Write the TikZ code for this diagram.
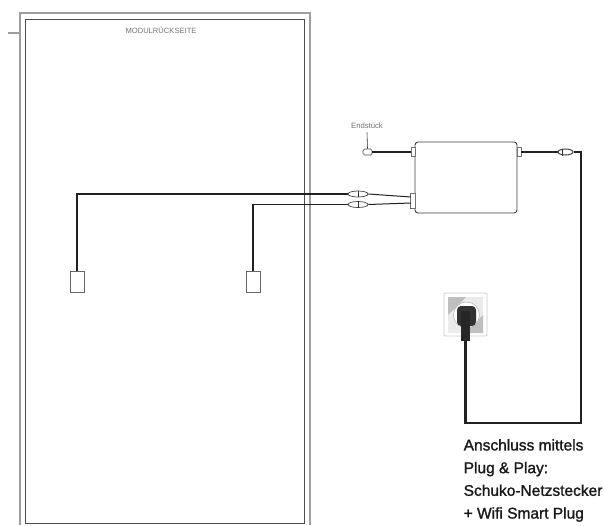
\documentclass[tikz,border=0pt]{standalone}
\usepackage{fontspec}
\setmainfont{Liberation Sans}
\newfontfamily\notefont[FakeBold=1.4]{Liberation Sans}
\usetikzlibrary{positioning,shapes.geometric}

\definecolor{framegray}{gray}{0.62}
\definecolor{plugblack}{gray}{0.13}
\definecolor{labelgray}{gray}{0.45}

\tikzstyle{wire} = [draw=plugblack, line width=1.7pt, line join=miter]
\tikzstyle{gridwire} = [draw=plugblack, line width=2.3pt, line join=miter]
\tikzstyle{thinwire} = [draw=plugblack, line width=1pt]
\tikzstyle{panelplug} = [rectangle, draw=black!60, fill=white, line width=0.8pt,
	minimum width=14pt, minimum height=21pt, inner sep=0pt]
\tikzstyle{tab} = [rectangle, draw=black!55, fill=white, line width=0.7pt, inner sep=0pt]
\tikzstyle{mc} = [ellipse, draw=black!75, fill=white, line width=0.7pt,
	minimum width=20pt, minimum height=6pt, inner sep=0pt]

\begin{document}
\begin{tikzpicture}[x=1pt, y=-1pt]
	\useasboundingbox (0,0) rectangle (604,525);
	
	% module frame
	\draw[framegray, line width=1.2pt] (20,525) -- (20,13) -- (310,13) -- (310,525);
	\draw[black!70, line width=1pt] (25,523) -- (25,19) -- (304.5,19) -- (304.5,523) -- cycle;
	\draw[framegray, line width=1.2pt] (8,33) -- (20,33);
	\node [text=labelgray, font=\fontsize{7.6}{9}\selectfont] (title) at (161,30) {MODULRÜCKSEITE};
	
	% micro inverter
	\node [rectangle, draw=black!75, rounded corners=3pt, line width=0.9pt, fill=white,
		minimum width=102pt, minimum height=71pt, inner sep=0pt] (box) at (466,177.5) {};
	\node [tab, minimum width=4pt, minimum height=9pt] (tabL) at (413,152) {};
	\node [tab, minimum width=4pt, minimum height=9pt] (tabR) at (519,152) {};
	\node [tab, minimum width=5pt, minimum height=15pt] (tabDC) at (413,200.5) {};
	
	% panel side
	\node [panelplug] (plugA) at (77,281.5) {};
	\node [panelplug] (plugB) at (253,281.5) {};
	\node [mc] (mcA) at (358,194) {};
	\node [mc] (mcB) at (358,204.5) {};
	\draw[black!80, line width=0.6pt] (mcA.north) -- (mcA.south);
	\draw[black!80, line width=0.6pt] (mcB.north) -- (mcB.south);
	\coordinate (cornerA) at (77,194);
	\coordinate (cornerB) at (253,204.5);
	\coordinate (inA) at (411,197);
	\coordinate (inB) at (411,203);
	\draw[wire] (plugA.north) -- (cornerA) -- (mcA.west);
	\draw[wire] (plugB.north) -- (cornerB) -- (mcB.west);
	\draw[thinwire] (mcA.east) -- (inA);
	\draw[thinwire] (mcB.east) -- (inB);
	
	% end cap
	\node [rectangle, draw=black!70, fill=white, rounded corners=1.5pt, line width=0.7pt,
		minimum width=9pt, minimum height=6pt, inner sep=0pt] (cap) at (367.5,152) {};
	\node [text=labelgray, font=\fontsize{7.7}{9}\selectfont] (capname) at (367,126) {Endstück};
	\draw[black!80, line width=0.6pt] (capname.south) -- (cap.north);
	\draw[gridwire] (cap.east) -- (tabL.west);
	
	% socket
	\node [rectangle, draw=black!20, fill=white, rounded corners=1pt, line width=0.8pt,
		minimum width=43pt, minimum height=43pt, inner sep=0pt] (socket) at (465.5,314.5) {};
	\fill[black!8] (448,297) rectangle (483,333);
	\fill[black!25] (448,297) -- (466,297) -- (448,315) -- cycle;
	\fill[black!25] (483,333) -- (465,333) -- (483,315) -- cycle;
	\node [circle, draw=black!35, fill=white, minimum size=26pt, inner sep=0pt] (ring) at (466.5,315) {};
	\fill[black!80, rounded corners=4pt] (457,306) rectangle (476,326);
	\node [rectangle, fill=black!85, minimum width=9pt, minimum height=30pt, inner sep=0pt] (plug) at (465.5,326) {};
	
	% grid connection
	\node [mc, minimum width=15pt, line width=1pt] (mcG) at (565.5,152) {};
	\draw[black!80, line width=0.7pt] ([xshift=-3pt]mcG.north) -- ([xshift=-3pt]mcG.south);
	\coordinate (cornerG) at (581,152);
	\coordinate (cornerH) at (581,423);
	\coordinate (cornerI) at (465.5,423);
	\draw[gridwire] (tabR.east) -- (mcG.west);
	\draw[gridwire] (mcG.east) -- (cornerG) -- (cornerH) -- (cornerI) -- (plug.south);
	
	\node [anchor=north west, align=left, inner sep=0pt, text=black!90, font=\notefont\fontsize{15.5}{22.7}\selectfont] (note) at (463.5,439)
		{Anschluss mittels\\Plug \& Play:\\Schuko-Netzstecker\\+ Wifi Smart Plug};
\end{tikzpicture}
\end{document}
